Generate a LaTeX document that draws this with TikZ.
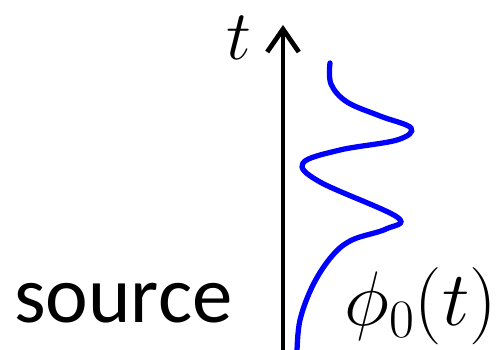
\RequirePackage{fix-cm}
\documentclass[tikz,border=0pt]{standalone}
\usepackage{fontspec}
\newfontfamily\srcfont{Carlito}
\usetikzlibrary{arrows.meta}
\begin{document}
\begin{tikzpicture}[x=0.02cm,y=-0.02cm,
  axis/.style={line width=2.7pt,-{Straight Barb[length=13pt,width=18pt,line width=2.7pt]}},
  wave/.style={blue,line width=3pt,line cap=round},
  lbl/.style={inner sep=0pt,anchor=base west}]
\useasboundingbox (0,0) rectangle (500,350);
\coordinate (a0) at (283,352);
\coordinate (a1) at (283,25);
\draw[axis] (a0) -- (a1);
\node[lbl,font=\fontsize{40}{40}\selectfont] (tl) at (226,60) {$t$};
\node[lbl,font=\srcfont\fontsize{46}{46}\selectfont] (src) at (14,323) {source};
\node[lbl,font=\fontsize{44}{44}\selectfont] (phi) at (344,326) {$\phi_0(t)$};
\draw[wave] plot[smooth,tension=0.6] coordinates {(330,63) (331,84) (347,102) (380,116) (411,128) (397,140) (340,150) (303,163) (320,182) (397,217) (386,229) (352,240) (332,256) (313,285) (300,320) (297,352)};
\end{tikzpicture}
\end{document}
